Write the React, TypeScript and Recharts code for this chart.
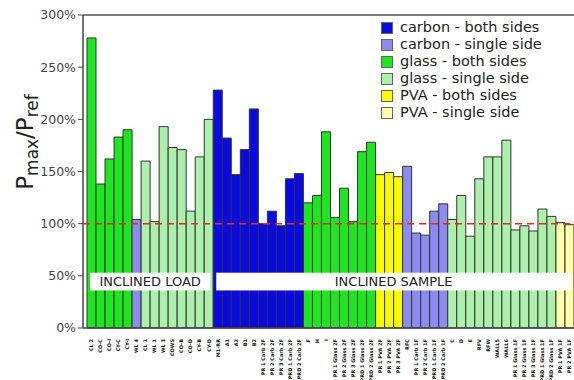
import React from "react";
import { BarChart, Bar, XAxis, YAxis, Cell, ReferenceLine, ReferenceArea } from "recharts";

// specimen names, left to right
const categories = [
  "CL 2", "CO-C", "CO-I", "CY-C", "CY-I", "WL 4", "CL 1", "WL 1", "WL 3", "COWS",
  "CO-B", "CO-D", "CY-B", "CY-D", "M1-RR", "A1", "A2", "B1", "B2",
  "PR 1 Carb 2F", "PR 2 Carb 2F", "PR 3 Carb 2F", "PRD 1 Carb 2F", "PRD 2 Carb 2F",
  "F", "H", "I", "PR 1 Glass 2F", "PR 2 Glass 2F", "PR 3 Glass 2F", "PRD 1 Glass 2F", "PRD 2 Glass 2F",
  "PR 1 PVA 2F", "PR 2 PVA 2F", "PR 3 PVA 2F", "RFC",
  "PR 1 Carb 1F", "PR 2 Carb 1F", "PRD 1 Carb 1F", "PRD 2 Carb 1F",
  "C", "D", "E", "RFV", "RFW", "WALL5", "WALL6",
  "PR 1 Glass 1F", "PR 2 Glass 1F", "PR 3 Glass 1F", "PRD 1 Glass 1F", "PRD 2 Glass 1F",
  "PR 1 PVA 1F", "PR 2 PVA 1F",
];

// Pmax / Pref, as fractions
const ratios = [
  2.78, 1.38, 1.62, 1.83, 1.90, 1.04, 1.60, 1.02, 1.93, 1.73,
  1.71, 1.12, 1.64, 2.00, 2.28, 1.82, 1.47, 1.71, 2.10,
  1.00, 1.12, 0.98, 1.43, 1.48,
  1.20, 1.27, 1.88, 1.06, 1.34, 1.02, 1.69, 1.78,
  1.47, 1.49, 1.45, 1.55,
  0.91, 0.89, 1.12, 1.19,
  1.04, 1.27, 0.88, 1.43, 1.64, 1.64, 1.80,
  0.94, 0.98, 0.93, 1.14, 1.07,
  1.01, 0.99,
];

// reinforcement type per specimen
const types = [
  "gb", "gb", "gb", "gb", "gb", "cs", "gs", "gs", "gs", "gs",
  "gs", "gs", "gs", "gs", "cb", "cb", "cb", "cb", "cb",
  "cb", "cb", "cb", "cb", "cb",
  "gb", "gb", "gb", "gb", "gb", "gb", "gb", "gb",
  "pb", "pb", "pb", "cs",
  "cs", "cs", "cs", "cs",
  "gs", "gs", "gs", "gs", "gs", "gs", "gs",
  "gs", "gs", "gs", "gs", "gs",
  "ps", "ps",
];

const typeKeys = ["cb", "cs", "gb", "gs", "pb", "ps"];
const typeNames = [
  "carbon - both sides",
  "carbon - single side",
  "glass - both sides",
  "glass - single side",
  "PVA - both sides",
  "PVA - single side",
];

const yTicks = [0, 0.5, 1, 1.5, 2, 2.5, 3];

const COLORS: Record<string, string> = {
  cb: "#0a0ae2",
  cs: "#8c8cf0",
  gb: "#1ee61e",
  gs: "#acf0ac",
  pb: "#fafa00",
  ps: "#ffffac",
};

const FONT = "'DejaVu Sans', Verdana, sans-serif";

const data = categories.map((name, i) => ({ name, value: ratios[i], type: types[i] }));

const XTick = ({ x, y, payload }: any) => (
  <text
    transform={`translate(${x},${y + 3}) rotate(-90)`}
    textAnchor="end"
    dy="0.35em"
    fontSize={5}
    fontWeight="bold"
    fontFamily={FONT}
    fill="#111"
  >
    {payload.value}
  </text>
);

const AxisTitle = () => (
  <text transform="translate(33,142) rotate(-90)" textAnchor="middle" fontFamily={FONT} fill="#222">
    <tspan fontSize={23}>P</tspan>
    <tspan fontSize={17} dy={5}>max</tspan>
    <tspan fontSize={23} dy={-5}>/P</tspan>
    <tspan fontSize={17} dy={5}>ref</tspan>
  </text>
);

// white label box, pulled in a little from the band edges
const LabelBox = (props: any) => (
  <rect x={props.x + 3} y={props.y} width={props.width - 6} height={props.height} fill="#fff" />
);

export default function App() {
  return (
    <div style={{ position: "absolute", left: 0, top: 0, width: 574, height: 380, overflow: "hidden", background: "#fff" }}>
      <BarChart
        width={580}
        height={380}
        data={data}
        margin={{ top: 15, right: 2, bottom: 0, left: 0 }}
        barCategoryGap={0}
        barGap={0}
      >
        <XAxis
          dataKey="name"
          interval={0}
          height={52}
          tick={<XTick />}
          tickLine={false}
          axisLine={{ stroke: "#444", strokeWidth: 1.5 }}
          padding={{ left: 4, right: 4 }}
        />
        <YAxis
          type="number"
          domain={[0, 3]}
          ticks={yTicks}
          width={83}
          tickSize={5}
          tickFormatter={(v) => `${Math.round(v * 100)}%`}
          tick={{ fontSize: 12.5, fill: "#444", fontFamily: FONT }}
          axisLine={{ stroke: "#444", strokeWidth: 1.5 }}
          tickLine={{ stroke: "#444" }}
          label={{ content: () => <AxisTitle /> }}
        />
        <Bar dataKey="value" isAnimationActive={false} stroke="#333" strokeWidth={1}>
          {data.map((d, i) => (
            <Cell key={`bar-${i}`} fill={COLORS[d.type]} />
          ))}
        </Bar>
        <ReferenceLine y={3} stroke="#555" strokeWidth={1.5} zIndex={1000} />
        <ReferenceLine y={1} stroke="#e8281e" strokeWidth={1.5} strokeDasharray="7 5" zIndex={1000} />
        <ReferenceArea
          x1="CL 2"
          x2="CY-D"
          y1={0.36}
          y2={0.53}
          shape={<LabelBox />}
          zIndex={1000}
          label={{ value: "INCLINED LOAD", position: "center", fontSize: 13, fill: "#222", fontFamily: FONT }}
        />
        <ReferenceArea
          x1="M1-RR"
          x2="PR 2 PVA 1F"
          y1={0.36}
          y2={0.53}
          shape={<LabelBox />}
          zIndex={1000}
          label={{ value: "INCLINED SAMPLE", position: "center", fontSize: 13, fill: "#222", fontFamily: FONT }}
        />
      </BarChart>
      <div style={{ position: "absolute", left: 381, top: 19, fontFamily: FONT, fontSize: 14.5, color: "#222", lineHeight: "17px" }}>
        {typeKeys.map((k, i) => (
          <div key={k} style={{ display: "flex", alignItems: "center" }}>
            <span
              style={{
                display: "inline-block",
                width: 10,
                height: 10,
                marginRight: 7,
                background: COLORS[k],
                border: "1px solid #666",
              }}
            />
            <span>{typeNames[i]}</span>
          </div>
        ))}
      </div>
    </div>
  );
}
